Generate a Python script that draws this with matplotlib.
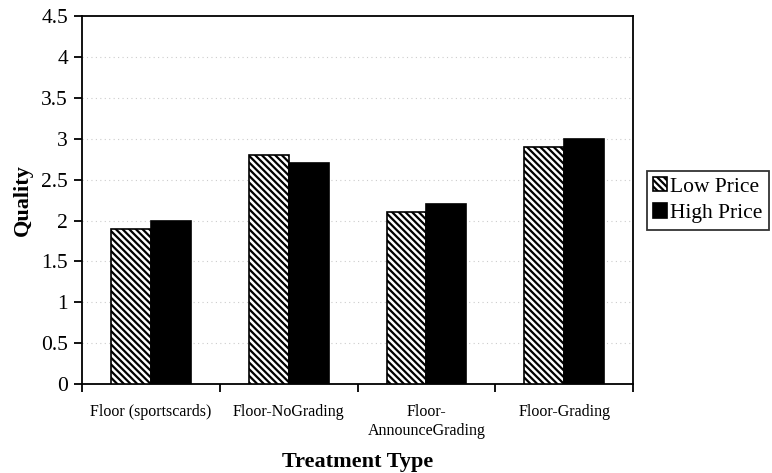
import numpy as np
import matplotlib
matplotlib.use("Agg")
import matplotlib.pyplot as plt

plt.rcParams['font.family'] = ['Liberation Serif', 'DejaVu Serif']
plt.rcParams['hatch.linewidth'] = 1.6

categories = ["Floor (sportscards)", "Floor-NoGrading", "Floor-\nAnnounceGrading", "Floor-Grading"]
low_price = [1.9, 2.8, 2.1, 2.9]
high_price = [2.0, 2.7, 2.2, 3.0]
yticks = [0, 0.5, 1, 1.5, 2, 2.5, 3, 3.5, 4, 4.5]
ytick_labels = ["0", "0.5", "1", "1.5", "2", "2.5", "3", "3.5", "4", "4.5"]

fig = plt.figure(figsize=(7.72, 4.73), dpi=100)
ax = fig.add_axes([0.1062, 0.188, 0.714, 0.778])

x = np.arange(len(categories))
w = 0.29
ax.bar(x - w / 2, low_price, w, color="white", edgecolor="black", hatch="\\\\\\\\\\",
       linewidth=1.2, label="Low Price", zorder=3)
ax.bar(x + w / 2, high_price, w, color="black", edgecolor="black",
       linewidth=1.2, label="High Price", zorder=3)

ax.set_xlim(-0.5, len(categories) - 0.5)
ax.set_ylim(0, 4.5)
ax.set_yticks(yticks)
ax.set_yticklabels(ytick_labels, fontsize=15.5)
for v in yticks[1:-1]:
    ax.axhline(v, color="#cccccc", linestyle=(0, (1, 3)), linewidth=0.8, zorder=1)

# ticks at the category boundaries, labels centred under groups
ax.set_xticks(np.arange(len(categories) + 1) - 0.5)
ax.set_xticklabels([])
ax.set_xticks(x, minor=True)
ax.set_xticklabels(categories, minor=True, fontsize=11.5, linespacing=1.3)
ax.tick_params(axis="x", which="minor", length=0, pad=14)
ax.tick_params(axis="x", which="major", direction="out", length=6, width=1.3)
ax.tick_params(axis="y", direction="out", length=6, width=1.3, pad=4)

for s in ax.spines.values():
    s.set_linewidth(1.3)

ax.set_ylabel("Quality", fontsize=16, fontweight="bold", labelpad=6)
ax.set_xlabel("Treatment Type", fontsize=16, fontweight="bold", labelpad=9)

leg = ax.legend(loc="center left", bbox_to_anchor=(1.025, 0.5), fontsize=15.5,
                frameon=True, fancybox=False, handlelength=0.65, handleheight=0.65,
                handletextpad=0.12, borderpad=0.3, borderaxespad=0,
                labelspacing=0.3)
leg.get_frame().set_edgecolor("black")
leg.get_frame().set_linewidth(1.3)

fig.savefig("out.png", dpi=100)
